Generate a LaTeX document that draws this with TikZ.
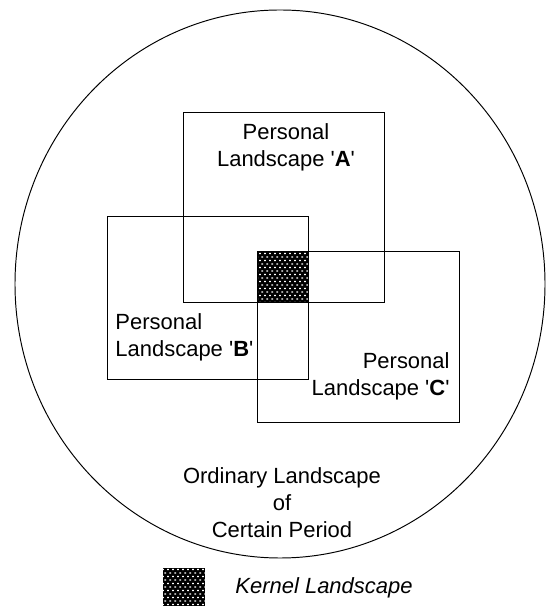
\documentclass[tikz,border=0pt]{standalone}
\usepackage{fontspec}
\setmainfont{Liberation Sans}
\usepackage{tikz}
\usetikzlibrary{patterns.meta}
\tikzdeclarepattern{
  name=kerneldash,
  type=uncolored,
  bounding box={(0,0) and (2.9pt,4.2pt)},
  tile size={(2.9pt,4.2pt)},
  code={
    \fill (0.1pt,0.5pt) rectangle (1.3pt,1.3pt);
    \fill (1.55pt,2.6pt) rectangle (2.75pt,3.4pt);
  }
}

\begin{document}
\begin{tikzpicture}[font=\fontsize{12.5}{15.4}\selectfont, line width=0.55pt,
    kernel/.style={fill=black, postaction={pattern=kerneldash, pattern color=white}}]
  \useasboundingbox (0,0) rectangle (10.92,12.12);
  % ordinary landscape
  \draw (5.60,6.44) ellipse [x radius=5.30, y radius=5.48];
  % kernel = A and B and C
  \path[kernel] (5.14,6.08) rectangle (6.16,7.10);
  \foreach \xa/\ya/\xb/\yb in {3.66/6.08/7.68/9.88, 2.14/4.54/6.16/7.80, 5.14/3.68/9.18/7.10}{
     \draw (\xa,\ya) rectangle (\xb,\yb);
  }
  \node[align=center] (persA) at (5.72,9.18)
     {Personal\\Landscape \textquotesingle\textbf{A}\textquotesingle};
  \node[align=left, anchor=west, inner sep=0pt] (persB) at (2.30,5.37)
     {Personal\\Landscape \textquotesingle\textbf{B}\textquotesingle};
  \node[align=right, anchor=east, inner sep=0pt] (persC) at (9.00,4.60)
     {Personal\\Landscape \textquotesingle\textbf{C}\textquotesingle};
  \node[align=center] (ordinary) at (5.64,2.06)
     {Ordinary Landscape\\of\\Certain Period};
  % legend
  \path[kernel] (3.26,0) rectangle (4.10,0.76);
  \node[anchor=west, inner sep=0pt] (legend) at (4.70,0.36) {\itshape Kernel Landscape};
\end{tikzpicture}
\end{document}
